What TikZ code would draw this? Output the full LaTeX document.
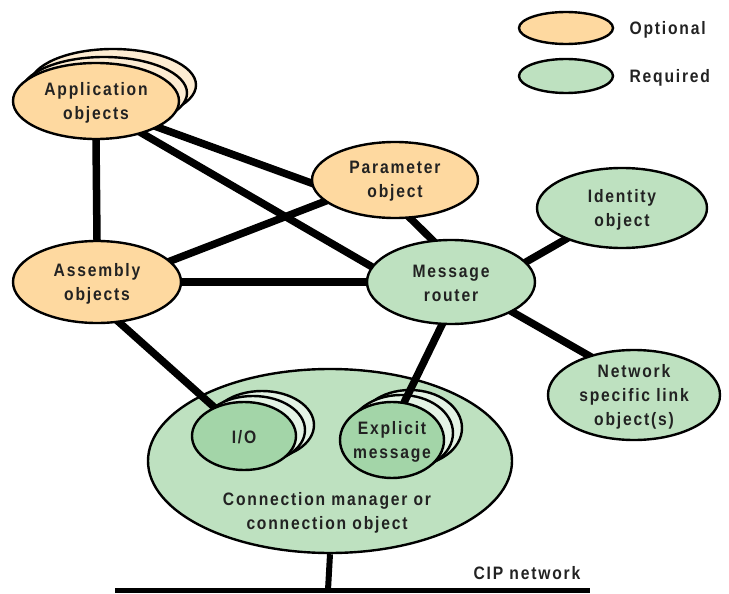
\documentclass[tikz,border=0pt]{standalone}
\usepackage{fontspec}
\setmainfont{Liberation Sans}[FakeStretch=0.87,LetterSpace=10]
\usetikzlibrary{shapes.geometric}
\pgfdeclarelayer{bottom}
\pgfdeclarelayer{bg}
\pgfsetlayers{bottom,bg,main}
\definecolor{optfill}{RGB}{254,217,160}
\definecolor{optback}{RGB}{253,236,210}
\definecolor{reqfill}{RGB}{190,225,192}
\definecolor{innerfill}{RGB}{163,213,168}
\definecolor{innerback}{RGB}{228,243,229}
\definecolor{txtc}{RGB}{34,34,34}
\tikzset{
  ell/.style={ellipse,draw=black,line width=2.4pt,inner sep=0pt},
  opt/.style={ell,fill=optfill},
  optb/.style={ell,fill=optback},
  req/.style={ell,fill=reqfill},
  inn/.style={ell,fill=innerfill},
  innb/.style={ell,fill=innerback},
  txt/.style={font=\bfseries\fontsize{18}{24}\selectfont,text=txtc,align=center,yshift=-1.5pt},
  conn/.style={line width=7.5pt,shorten <=-5pt,shorten >=-5pt},
}
\begin{document}
\begin{tikzpicture}[x=1pt,y=-1pt]
\useasboundingbox (0,0) rectangle (729,594);
\begin{pgfonlayer}{bottom}
% connection manager
\node[req,minimum width=364pt,minimum height=184pt] (cm) at (330,461) {};
% back copies
\node[optb,minimum width=166pt,minimum height=72pt] (app2) at (113,85) {};
\node[optb,minimum width=166pt,minimum height=72pt] (app1) at (104,93) {};
\node[innb,minimum width=104pt,minimum height=68pt] (io2) at (262,425) {};
\node[innb,minimum width=104pt,minimum height=68pt] (io1) at (253,430) {};
\node[innb,minimum width=104pt,minimum height=76pt] (ex2) at (410,428) {};
\node[innb,minimum width=104pt,minimum height=76pt] (ex1) at (401,433) {};
\end{pgfonlayer}
% CIP network
\coordinate (busL) at (115,590);
\coordinate (busR) at (590,590);
\coordinate (busT) at (328,590);
\draw[line width=5pt] (busL) -- (busR);
\draw[line width=6pt] (cm.south) -- (busT);
\node[txt,anchor=west] (cip) at (470,572) {CIP network};
% front ellipses
\node[opt,minimum width=166pt,minimum height=76pt] (app) at (96,101) {};
\node[txt] at (app) {Application\\objects};
\node[opt,minimum width=166pt,minimum height=76pt] (par) at (395,180) {};
\node[txt] at (par) {Parameter\\object};
\node[req,minimum width=170pt,minimum height=80pt] (id) at (622,208) {};
\node[txt] at (id) {Identity\\object};
\node[opt,minimum width=168pt,minimum height=82pt] (asm) at (97,282) {};
\node[txt] at (asm) {Assembly\\objects};
\node[req,minimum width=168pt,minimum height=84pt] (mr) at (451,282) {};
\node[txt] at (mr) {Message\\router};
\node[req,minimum width=172pt,minimum height=90pt] (net) at (634,395) {};
\node[txt] at (net) {Network\\specific link\\object(s)};
\node[inn,minimum width=104pt,minimum height=68pt] (io) at (244,436) {};
\node[txt] at (io) {I/O};
\node[inn,minimum width=104pt,minimum height=76pt] (ex) at (392,440) {};
\node[txt] at (ex) {Explicit\\message};
\node[txt] (cmt) at (327,511) {Connection manager or\\connection object};
% connectors
\begin{pgfonlayer}{bg}
\draw[conn] (app.south) -- (asm.north);
\draw[conn] (app.-23) -- (par.182);
\draw[conn] (app.-35) -- (mr.169);
\draw[conn] (asm.16) -- (par.-163);
\draw[conn] (asm.east) -- (mr.west);
\draw[conn] (par.-68) -- (mr.114);
\draw[conn] (mr.15) -- (id.-151);
\draw[conn] (mr.-26) -- (net.139);
\draw[conn] (asm.-61) -- (io.136);
\draw[conn] (mr.-102) -- (ex.72);
\end{pgfonlayer}
% legend
\node[opt,minimum width=94pt,minimum height=32pt] (lo) at (566,28) {};
\node[txt,anchor=west] (lot) at (626,28) {Optional};
\node[req,minimum width=94pt,minimum height=34pt] (lr) at (566,76) {};
\node[txt,anchor=west] (lrt) at (626,76) {Required};
\end{tikzpicture}
\end{document}
